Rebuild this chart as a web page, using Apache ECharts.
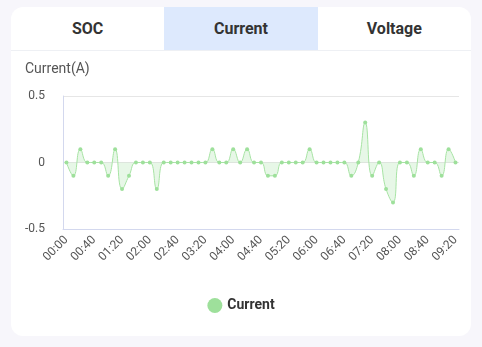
<!DOCTYPE html>
<html>
<head>
<meta charset="utf-8">
<script src="https://cdn.jsdelivr.net/npm/echarts@6/dist/echarts.min.js"></script>
<style>
  html, body { margin: 0; padding: 0; width: 482px; height: 347px; background: #f7f6fb; overflow: hidden; font-family: Roboto, "Noto Sans", sans-serif; }
  .card { position: absolute; left: 11px; top: 7px; width: 460px; height: 329px; background: #fff; border-radius: 12px; overflow: hidden; }
  .tabs { display: flex; height: 43px; border-bottom: 1px solid #eef0f4; }
  .tab { flex: 1; display: flex; align-items: center; justify-content: center; font-weight: 700; font-size: 16px; color: #333; }
  .tab.active { background: #dde9fd; }
  #chart { position: absolute; left: 0; top: 0; width: 482px; height: 347px; }
</style>
</head>
<body>
<div class="card">
  <div class="tabs">
    <div class="tab">SOC</div>
    <div class="tab active">Current</div>
    <div class="tab">Voltage</div>
  </div>
</div>
<div id="chart"></div>
<script>
// Sample times, every 10 minutes from 00:00 to 09:20
const times = [];
for (let m = 0; m <= 560; m += 10) {
  times.push(String(Math.floor(m / 60)).padStart(2, '0') + ':' + String(m % 60).padStart(2, '0'));
}

// Measured current (A)
const currentValues = [
  0, -0.1, 0.1, 0, 0, 0, -0.1, 0.1, -0.2, -0.1,
  0, 0, 0, -0.2, 0, 0, 0, 0, 0, 0,
  0, 0.1, 0, 0, 0.1, 0, 0.1, 0, 0, -0.1,
  -0.1, 0, 0, 0, 0, 0.1, 0, 0, 0, 0,
  0, -0.1, 0, 0.3, -0.1, 0, -0.2, -0.3, 0, 0,
  -0.1, 0.1, 0, 0, -0.1, 0.1, 0
];

const yTicks = { min: -0.5, max: 0.5, interval: 0.5 };

const chart = echarts.init(document.getElementById('chart'));
chart.setOption({
  animation: false,
  title: {
    text: 'Current(A)',
    left: 20,
    top: 57,
    textStyle: { fontSize: 14, fontWeight: 'normal', color: '#555', fontFamily: 'Roboto' }
  },
  legend: {
    bottom: 29,
    left: 'center',
    icon: 'circle',
    itemWidth: 15,
    itemHeight: 15,
    itemGap: 10,
    textStyle: { fontSize: 14, fontWeight: 'bold', color: '#333', fontFamily: 'Roboto' },
    data: ['Current']
  },
  grid: { left: 63, right: 23, top: 96, bottom: 118 },
  xAxis: {
    type: 'category',
    boundaryGap: true,
    data: times,
    axisLine: { onZero: false, lineStyle: { color: '#d3d8ee' } },
    axisTick: { show: false },
    axisLabel: { interval: 3, rotate: 45, fontSize: 12, color: '#555', fontFamily: 'Roboto', margin: 9 }
  },
  yAxis: {
    type: 'value',
    min: yTicks.min,
    max: yTicks.max,
    interval: yTicks.interval,
    axisLine: { show: true, lineStyle: { color: '#d3d8ee' } },
    axisTick: { show: false },
    axisLabel: { fontSize: 12, color: '#555', fontFamily: 'Roboto', margin: 18 },
    splitLine: { show: true, lineStyle: { color: '#e6e6e6' } }
  },
  series: [{
    name: 'Current',
    type: 'line',
    smooth: true,
    data: currentValues,
    symbol: 'circle',
    symbolSize: 4,
    color: '#9ee09b',
    lineStyle: { width: 1, color: '#a6e3a3' },
    itemStyle: { color: '#9ee09b' },
    areaStyle: { color: 'rgba(158,224,155,0.35)' }
  }]
});
</script>
</body>
</html>
